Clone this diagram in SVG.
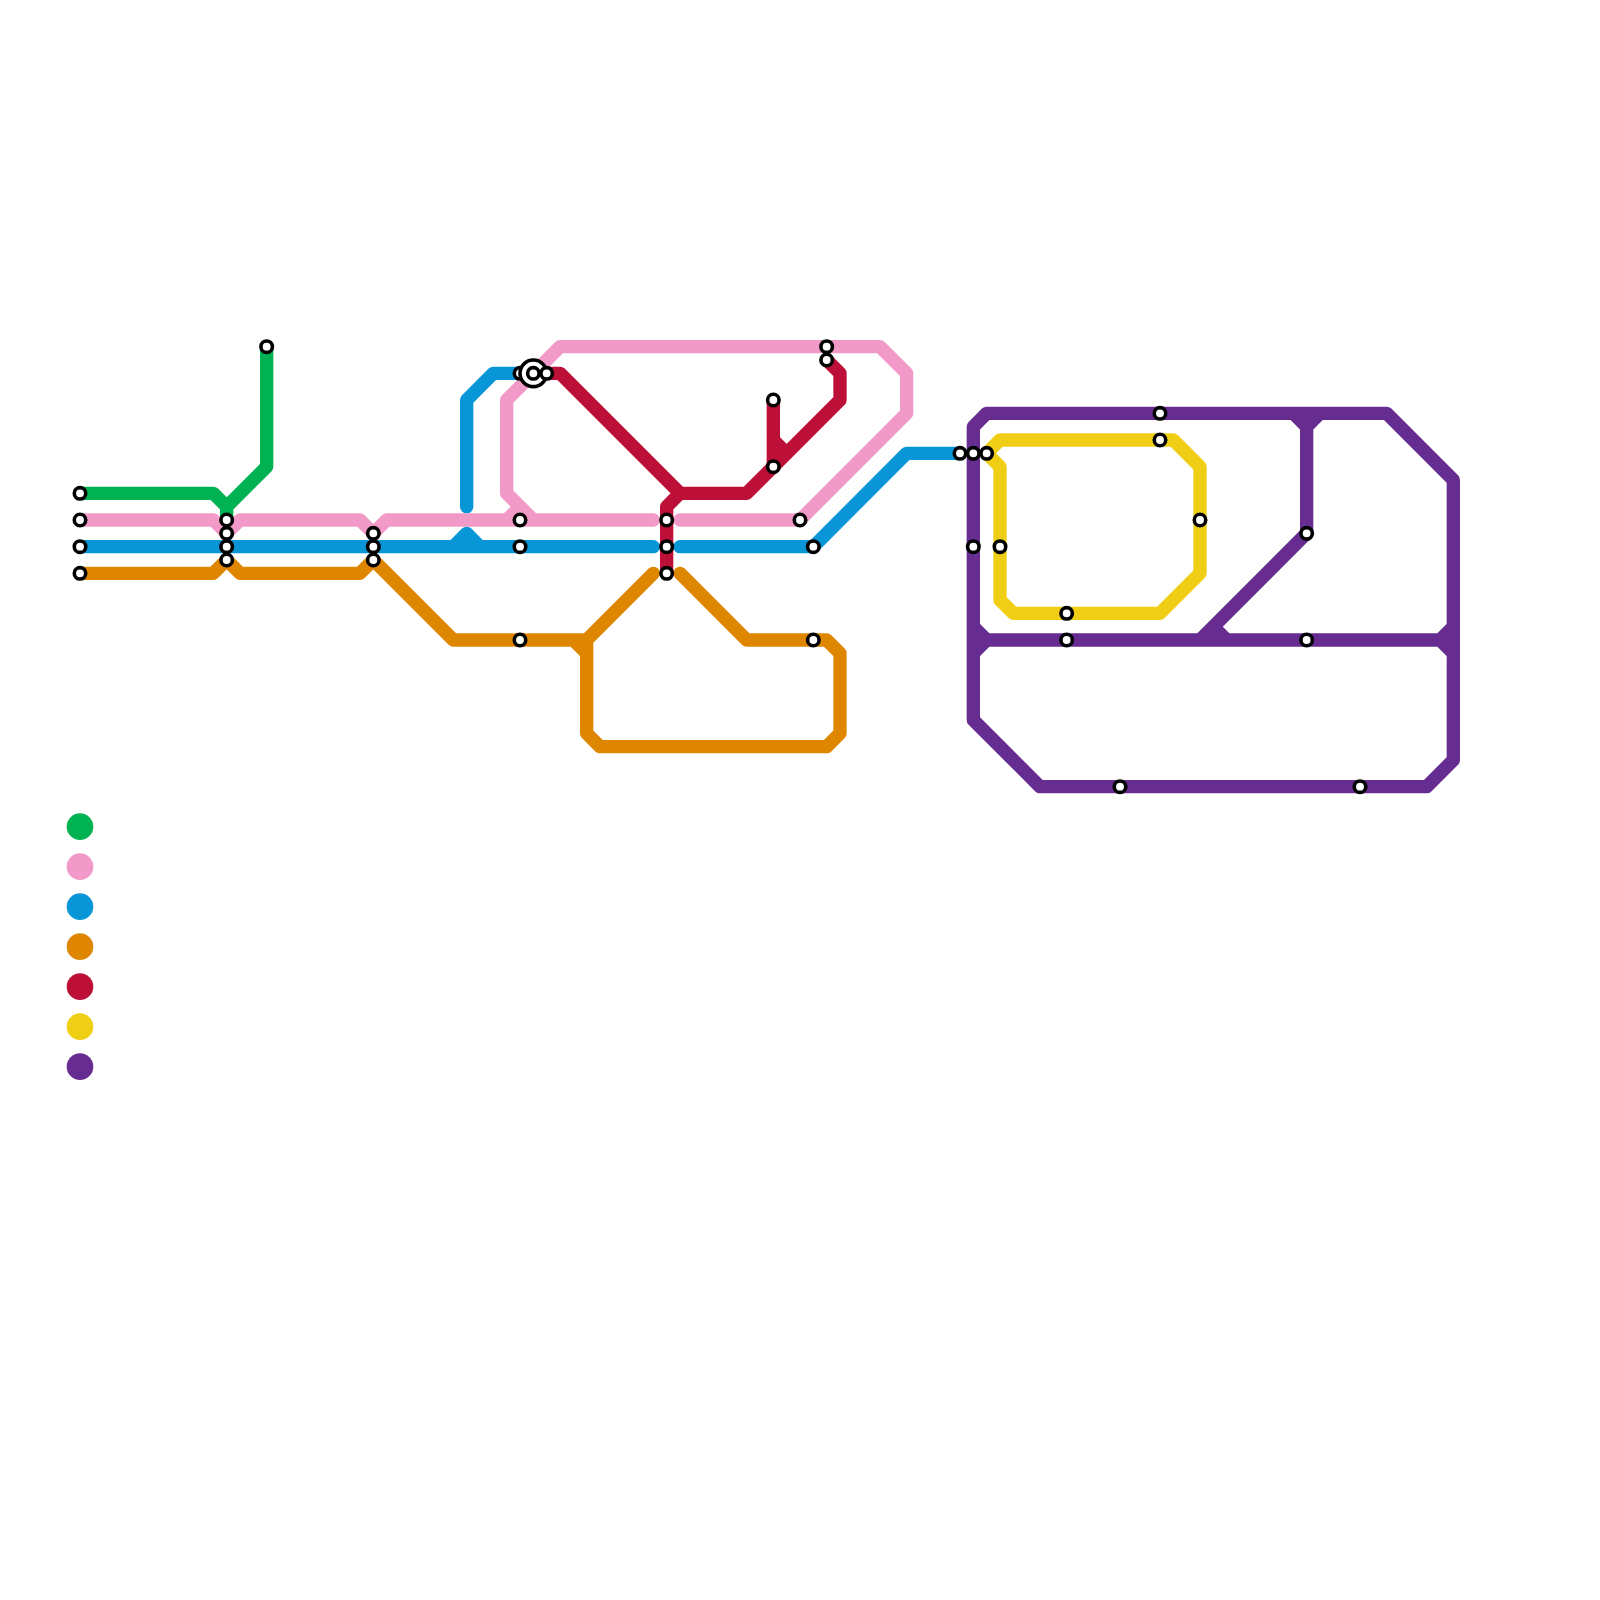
<svg xmlns="http://www.w3.org/2000/svg" width="1600" height="1600" viewBox="0 0 1600 1600">
<style>
.l{fill:none;stroke-width:1px;stroke-linecap:round;stroke-linejoin:round}
.s{fill:#fff;stroke:#000;stroke-width:.27}
.g{stroke:#00b251}.p{stroke:#f19ac8}.b{stroke:#0896d7}.o{stroke:#df8600}.r{stroke:#bd1038}.y{stroke:#f0ce15}.v{stroke:#662c90}
</style>
<rect width="1600" height="1600" fill="#fff"/>
<g id="connectors" transform="scale(13.3333)">
<path id="line-green" class="l g" d="M6 37H16L17 38V39M17 38L20 35V26"/>
<path id="line-pink" class="l p" d="M6 39H16L17 40L18 39H27L28 40L29 39H49M51 39H60L68 31V28L66 26H42L38 30V37L40 39M39 38L38 39"/>
<path id="line-blue" class="l b" d="M6 41H49M51 41H61L68 34H72M35 38V30L37 28H39M34 41L35 40L36 41"/>
<path id="line-orange" class="l o" d="M6 43H16L17 42L18 43H27L28 42L34 48H44L49 43M43 48L44 49M44 48V55L45 56H62L63 55V49L62 48H56L51 43"/>
<path id="line-red" class="l r" d="M41 28H42L51 37H56L63 30V28L62 27M51 37L50 38V43M58 30V35M58 33L59 34"/>
<path id="line-yellow" class="l y" d="M74 34L75 33H88L90 35V43L87 46H76L75 45V35L74 34"/>
<path id="line-purple" class="l v" d="M73 34V32L74 31H104L109 36V57L107 59H78L73 54V34M73 47L74 48L73 49M74 48H108L109 47M108 48L109 49M97 31L98 32V40L90 48M99 31L98 32M91 47L92 48"/>
</g>
<g transform="scale(13.3333)">
<g id="n1"><circle class="s" cx="6" cy="37" r=".43"/></g>
<g id="n2"><circle class="s" cx="6" cy="39" r=".43"/></g>
<g id="n3"><circle class="s" cx="6" cy="41" r=".43"/></g>
<g id="n4"><circle class="s" cx="6" cy="43" r=".43"/></g>
<g id="n5"><circle class="s" cx="20" cy="26" r=".43"/></g>
<g id="n6"><circle class="s" cx="17" cy="39" r=".43"/></g>
<g id="n7"><circle class="s" cx="17" cy="40" r=".43"/></g>
<g id="n8"><circle class="s" cx="17" cy="41" r=".43"/></g>
<g id="n9"><circle class="s" cx="17" cy="42" r=".43"/></g>
<g id="n10"><circle class="s" cx="28" cy="40" r=".43"/></g>
<g id="n11"><circle class="s" cx="28" cy="41" r=".43"/></g>
<g id="n12"><circle class="s" cx="28" cy="42" r=".43"/></g>
<g id="n13"><circle class="s" cx="39" cy="39" r=".43"/></g>
<g id="n14"><circle class="s" cx="39" cy="41" r=".43"/></g>
<g id="n15"><circle class="s" cx="39" cy="48" r=".43"/></g>
<g id="n16"><circle class="s" cx="39" cy="28" r=".43"/></g>
<g id="n17"><circle class="s" cx="40" cy="28" r="1"/></g>
<g id="n18"><circle class="s" cx="40" cy="28" r=".43"/></g>
<g id="n19"><circle class="s" cx="41" cy="28" r=".43"/></g>
<g id="n20"><circle class="s" cx="50" cy="39" r=".43"/></g>
<g id="n21"><circle class="s" cx="50" cy="41" r=".43"/></g>
<g id="n22"><circle class="s" cx="50" cy="43" r=".43"/></g>
<g id="n23"><circle class="s" cx="58" cy="30" r=".43"/></g>
<g id="n24"><circle class="s" cx="58" cy="35" r=".43"/></g>
<g id="n25"><circle class="s" cx="60" cy="39" r=".43"/></g>
<g id="n26"><circle class="s" cx="61" cy="41" r=".43"/></g>
<g id="n27"><circle class="s" cx="61" cy="48" r=".43"/></g>
<g id="n28"><circle class="s" cx="62" cy="26" r=".43"/></g>
<g id="n29"><circle class="s" cx="62" cy="27" r=".43"/></g>
<g id="n30"><circle class="s" cx="72" cy="34" r=".43"/></g>
<g id="n31"><circle class="s" cx="73" cy="34" r=".43"/></g>
<g id="n32"><circle class="s" cx="74" cy="34" r=".43"/></g>
<g id="n33"><circle class="s" cx="73" cy="41" r=".43"/></g>
<g id="n34"><circle class="s" cx="75" cy="41" r=".43"/></g>
<g id="n35"><circle class="s" cx="80" cy="46" r=".43"/></g>
<g id="n36"><circle class="s" cx="80" cy="48" r=".43"/></g>
<g id="n37"><circle class="s" cx="87" cy="31" r=".43"/></g>
<g id="n38"><circle class="s" cx="87" cy="33" r=".43"/></g>
<g id="n39"><circle class="s" cx="90" cy="39" r=".43"/></g>
<g id="n40"><circle class="s" cx="98" cy="40" r=".43"/></g>
<g id="n41"><circle class="s" cx="98" cy="48" r=".43"/></g>
<g id="n42"><circle class="s" cx="84" cy="59" r=".43"/></g>
<g id="n43"><circle class="s" cx="102" cy="59" r=".43"/></g>
</g>
<g id="legend">
<circle cx="80" cy="826.67" r="13.33" fill="#00b251"/>
<circle cx="80" cy="866.67" r="13.33" fill="#f19ac8"/>
<circle cx="80" cy="906.67" r="13.33" fill="#0896d7"/>
<circle cx="80" cy="946.67" r="13.33" fill="#df8600"/>
<circle cx="80" cy="986.67" r="13.33" fill="#bd1038"/>
<circle cx="80" cy="1026.67" r="13.33" fill="#f0ce15"/>
<circle cx="80" cy="1066.67" r="13.33" fill="#662c90"/>
</g>
</svg>
